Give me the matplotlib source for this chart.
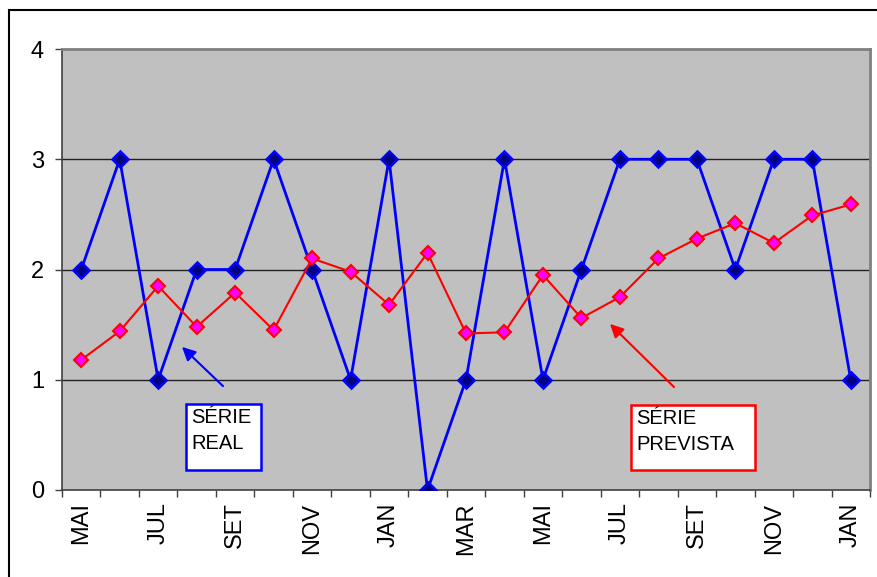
import matplotlib
matplotlib.use("Agg")
import matplotlib.pyplot as plt
from matplotlib.patches import Rectangle

plt.rcParams["font.family"] = ["Liberation Sans", "DejaVu Sans"]

meses = ["MAI", "JUN", "JUL", "AGO", "SET", "OUT", "NOV", "DEZ", "JAN", "FEV", "MAR",
         "ABR", "MAI", "JUN", "JUL", "AGO", "SET", "OUT", "NOV", "DEZ", "JAN"]
serie_real = [2, 3, 1, 2, 2, 3, 2, 1, 3, 0, 1, 3, 1, 2, 3, 3, 3, 2, 3, 3, 1]
serie_prevista = [1.18, 1.44, 1.85, 1.48, 1.79, 1.45, 2.10, 1.98, 1.68, 2.15, 1.42,
                  1.43, 1.95, 1.56, 1.75, 2.10, 2.28, 2.42, 2.24, 2.49, 2.59]
yticks = [0, 1, 2, 3, 4]

W, H = 878, 577
fig = plt.figure(figsize=(W / 100, H / 100), dpi=100)
ax = fig.add_axes([62 / W, 1 - 490 / H, 808 / W, 441 / H])
ax.set_facecolor("#c0c0c0")

x = list(range(len(meses)))
ax.plot(x, serie_real, color="#0000ff", lw=2, marker="D", ms=8.5,
        mfc="#000080", mec="#0000ff", mew=1.8, zorder=3)
ax.plot(x, serie_prevista, color="#ff0000", lw=1.5, marker="D", ms=7,
        mfc="#ff00ff", mec="#ff0000", mew=1.5, zorder=4)

ax.set_xlim(-0.5, len(meses) - 0.5)
ax.set_ylim(0, 4)
ax.set_yticks(yticks)
ax.set_yticklabels([str(v) for v in yticks], fontsize=17)
for v in yticks[1:-1]:
    ax.axhline(v, color="#202020", lw=1, zorder=1)

# category labels every other month, tick marks between categories
ax.set_xticks(x[::2])
ax.set_xticklabels(meses[::2], rotation=90, fontsize=17)
ax.tick_params(axis="x", length=0, pad=9)
ax.set_xticks([i - 0.5 for i in range(len(meses) + 1)], minor=True)
ax.tick_params(axis="x", which="minor", length=5, width=1, color="#404040")
ax.tick_params(axis="y", length=5, width=1, color="#404040", pad=8)

for side in ["top", "right"]:
    ax.spines[side].set_color("#808080")
    ax.spines[side].set_linewidth(2)
for side in ["left", "bottom"]:
    ax.spines[side].set_color("#404040")
    ax.spines[side].set_linewidth(1.2)

# callouts
ax.annotate("", xy=(180 / W, 1 - 345 / H), xytext=(225 / W, 1 - 388 / H),
            xycoords="figure fraction", textcoords="figure fraction",
            arrowprops=dict(arrowstyle="-|>", color="#0000ff", lw=1.5, mutation_scale=20))
ax.annotate("", xy=(608 / W, 1 - 322 / H), xytext=(676 / W, 1 - 389 / H),
            xycoords="figure fraction", textcoords="figure fraction",
            arrowprops=dict(arrowstyle="-|>", color="#ff0000", lw=1.5, mutation_scale=20))

for (x0, y0, x1, y1), cor, txt in [((186, 404, 261, 470), "#0000ff", "SÉRIE\nREAL"),
                                   ((631, 405, 755, 470), "#ff0000", "SÉRIE\nPREVISTA")]:
    fig.patches.append(Rectangle((x0 / W, 1 - y1 / H), (x1 - x0) / W, (y1 - y0) / H,
                                 transform=fig.transFigure, facecolor="white",
                                 edgecolor=cor, lw=1.8, zorder=5))
    fig.text((x0 + 5) / W, 1 - (y0 + 4) / H, txt, fontsize=14.5, va="top", ha="left",
             linespacing=1.45, zorder=6)

# outer chart frame, running off the right and bottom edges
fig.patches.append(Rectangle((9 / W, -0.1), 1.2, 1.1 - 10 / H, transform=fig.transFigure,
                             fill=False, edgecolor="black", lw=1.5, zorder=0))

fig.savefig("out.png", dpi=100)
